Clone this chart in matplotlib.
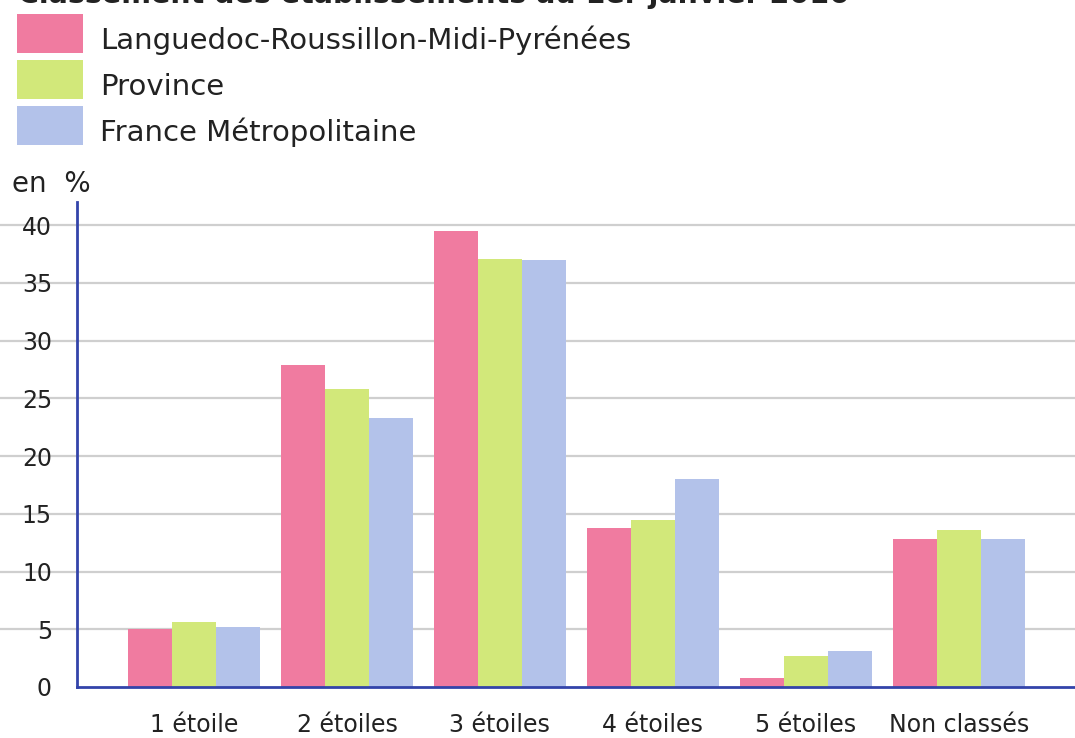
import matplotlib
matplotlib.use("Agg")
import matplotlib.pyplot as plt
from matplotlib.patches import Rectangle
import numpy as np

categories = ["1 étoile", "2 étoiles", "3 étoiles", "4 étoiles", "5 étoiles", "Non classés"]
series_names = ["Languedoc-Roussillon-Midi-Pyrénées", "Province", "France Métropolitaine"]
lrmp = [5.0, 27.9, 39.5, 13.8, 0.8, 12.8]
province = [5.6, 25.8, 37.1, 14.5, 2.7, 13.6]
france = [5.2, 23.3, 37.0, 18.0, 3.1, 12.8]
yticks = [0, 5, 10, 15, 20, 25, 30, 35, 40]

colors = ["#F07BA0", "#D2E87A", "#B3C2EA"]
axis_color = "#3344AA"
text_color = "#222222"
W, H = 1075, 738

fig = plt.figure(figsize=(W / 100, H / 100), dpi=100)
fig.patch.set_facecolor("white")

# plot area in pixel coordinates
left, right, bottom, top = 77, 1075, 687, 202
ax = fig.add_axes([left / W, 1 - bottom / H, (right - left) / W, (bottom - top) / H])

x = np.arange(len(categories))
bw = 0.288
for i, (vals, c) in enumerate(zip([lrmp, province, france], colors)):
    ax.bar(x + (i - 1) * bw, vals, width=bw, color=c, zorder=3, linewidth=0)

ax.set_xlim(-0.765, len(categories) - 1 + 0.76)
ax.set_ylim(0, 42)
ax.set_yticks(yticks)
ax.set_yticklabels([str(v) for v in yticks], fontsize=17, color=text_color)
ax.set_xticks(x)
ax.set_xticklabels(categories, fontsize=17, color=text_color)
ax.tick_params(axis="y", length=0, pad=18)
ax.tick_params(axis="x", length=0, pad=19)

for v in yticks[1:]:
    ax.plot([-0.09, 1], [v, v], transform=ax.get_yaxis_transform(), color="#CFCFCF",
            lw=1.6, zorder=1, clip_on=False)

for s in ["top", "right"]:
    ax.spines[s].set_visible(False)
ax.spines["left"].set_color(axis_color)
ax.spines["left"].set_linewidth(2)
ax.spines["bottom"].set_color(axis_color)
ax.spines["bottom"].set_linewidth(2)
ax.spines["bottom"].set_zorder(4)

fig.text(12 / W, 1 - 192 / H, "en  %", fontsize=20, color=text_color, va="baseline", ha="left")

# title, running off the top edge of the canvas
fig.text(18 / W, 1 - 3 / H, "Classement des établissements au 1er janvier 2016",
         fontsize=20.5, fontweight="bold", color=text_color, va="baseline", ha="left")

# legend
for i, (name, c) in enumerate(zip(series_names, colors)):
    y0 = 14 + 46 * i
    fig.add_artist(Rectangle((17 / W, 1 - (y0 + 39) / H), 66 / W, 39 / H,
                             transform=fig.transFigure, color=c, lw=0))
    fig.text(100 / W, 1 - (y0 + 35) / H, name, fontsize=21, color=text_color,
             va="baseline", ha="left")

fig.savefig("out.png", dpi=100)
